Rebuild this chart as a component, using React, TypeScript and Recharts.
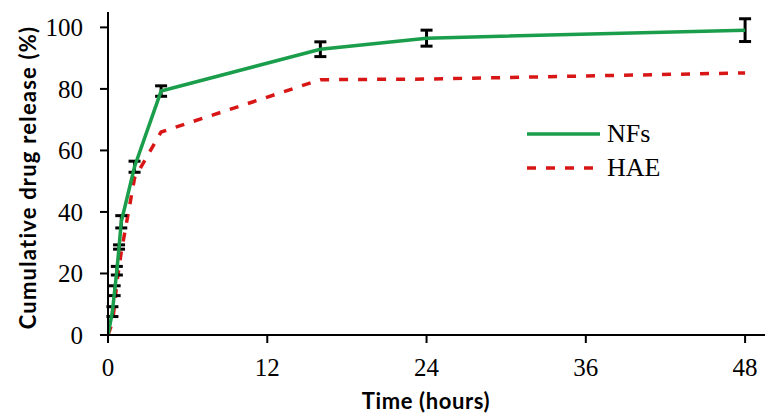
import { ErrorBar, Line, LineChart, XAxis, YAxis } from "recharts";

const times = [0, 0.333, 0.5, 0.667, 0.833, 1, 2, 4, 16, 24, 48];
const nfs = [0, 7.6, 14.4, 20.9, 28.6, 36.8, 54.7, 79.3, 92.9, 96.5, 99.1];
const nfsErr = [0, 1.6, 1.6, 1.4, 0.7, 2.0, 1.8, 1.7, 2.4, 2.6, 3.7];
const hae = [0, 4, 10, 17, 22, 27, 51, 66, 83, 83.2, 85.2];
const xTicks = [0, 12, 24, 36, 48];
const yTicks = [0, 20, 40, 60, 80, 100];

const data = times.map((t, i) => ({ t, nfs: nfs[i], nfsErr: nfsErr[i], hae: hae[i] }));

const GREEN = "#1a9e4b";
const RED = "#d81616";
const serif = "'Liberation Serif', 'Times New Roman', serif";
const sans = "Lato, 'Open Sans', sans-serif";

const series = [
  { key: "nfs", name: "NFs", color: GREEN, dash: undefined as string | undefined },
  { key: "hae", name: "HAE", color: RED, dash: "9 10" },
];

const YTitle = (props: any) => {
  const { viewBox } = props;
  const cx = viewBox.x + 27;
  const cy = viewBox.y + viewBox.height / 2 + 4;
  return (
    <text x={cx} y={cy} transform={`rotate(-90, ${cx}, ${cy})`} textAnchor="middle" dominantBaseline="central"
      fontFamily={sans} fontWeight={700} fontSize={22} letterSpacing={1.2} fill="#000">
      Cumulative drug release (%)
    </text>
  );
};

const XTitle = (props: any) => {
  const { viewBox } = props;
  return (
    <text x={viewBox.x + 318} y={viewBox.y + 65} textAnchor="middle" dominantBaseline="central"
      fontFamily={sans} fontWeight={700} fontSize={22} letterSpacing={0.6} fill="#000">
      Time (hours)
    </text>
  );
};

export default function App() {
  return (
    <div style={{ position: "absolute", left: 0, top: 0, width: 776, height: 418, background: "#fff" }}>
      <LineChart width={776} height={418} data={data} margin={{ top: 12, right: 11, left: 0, bottom: 0 }}>
        <XAxis dataKey="t" type="number" domain={[0, 49.5]} ticks={xTicks} allowDataOverflow
          height={83} stroke="#000" strokeWidth={2} tickSize={8} tickMargin={15} fontSize={25}
          tick={{ fill: "#000", fontFamily: serif, fontSize: 25 }} label={<XTitle />} />
        <YAxis type="number" domain={[0, 105]} ticks={yTicks} allowDataOverflow
          width={108} stroke="#000" strokeWidth={2} tickSize={8} tickMargin={17} fontSize={25}
          tick={{ fill: "#000", fontFamily: serif, fontSize: 25 }} label={<YTitle />} />
        <Line type="linear" dataKey="hae" name="HAE" stroke={RED} strokeWidth={3.5} strokeDasharray="9 10"
          dot={false} activeDot={false} isAnimationActive={false} />
        <Line type="linear" dataKey="nfs" name="NFs" stroke={GREEN} strokeWidth={3.5}
          dot={false} activeDot={false} isAnimationActive={false}>
          <ErrorBar dataKey="nfsErr" direction="y" width={6} stroke="#000" strokeWidth={3} />
        </Line>
      </LineChart>
      <div style={{ position: "absolute", left: 527, top: 117 }}>
        {series.map((s) => (
          <div key={s.key} style={{ display: "flex", alignItems: "center", height: 34 }}>
            <svg width={73} height={6} style={{ marginRight: 7 }}>
              <line x1={0} y1={3} x2={73} y2={3} stroke={s.color} strokeWidth={3.5} strokeDasharray={s.dash} />
            </svg>
            <span style={{ fontFamily: serif, fontSize: 26, color: "#000", lineHeight: "34px" }}>{s.name}</span>
          </div>
        ))}
      </div>
    </div>
  );
}
